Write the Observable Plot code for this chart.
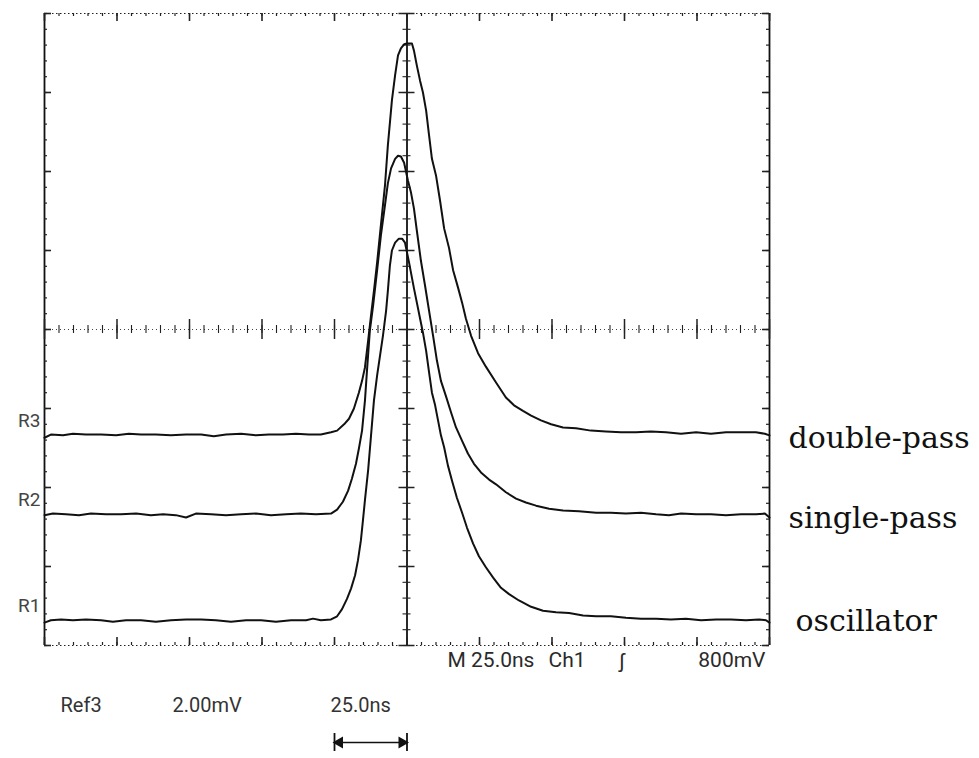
<!DOCTYPE html>
<html>
<head>
<meta charset="utf-8">
<script src="https://cdn.jsdelivr.net/npm/d3@7"></script>
<script src="https://cdn.jsdelivr.net/npm/@observablehq/plot@0.6"></script>
<style>
html, body { margin: 0; padding: 0; background: #fff; }
#chart svg { display: block; }
</style>
</head>
<body>
<div id="chart"></div>
<script>
// ---------------- data (time in ns, signal in screen divisions) ----------------
const doublePass = [
  [-125,-1.37],[-122.8,-1.33],[-118.6,-1.34],[-115.2,-1.32],[-110.7,-1.33],[-105.5,-1.33],
  [-100.3,-1.34],[-95.9,-1.32],[-91.7,-1.33],[-86.6,-1.33],[-81.4,-1.34],[-76.2,-1.33],
  [-71.0,-1.33],[-66.6,-1.35],[-62.4,-1.33],[-57.2,-1.32],[-52.1,-1.34],[-47.6,-1.33],
  [-42.8,-1.33],[-38.3,-1.32],[-33.8,-1.33],[-29.7,-1.33],[-26.2,-1.30],[-24.1,-1.28],
  [-21.7,-1.20],[-20.0,-1.13],[-18.3,-1.00],[-16.6,-0.80],[-15.5,-0.65],[-14.5,-0.48],
  [-13.4,-0.14],[-12.4,0.18],[-11.4,0.49],[-10.3,0.85],[-9.0,1.32],[-7.6,1.82],
  [-6.6,2.33],[-5.2,2.90],[-4.1,3.22],[-3.1,3.47],[-2.1,3.56],[-1.0,3.61],[0,3.62],
  [1.7,3.62],[2.4,3.53],[3.4,3.34],[4.5,3.15],[5.5,3.00],[6.6,2.77],[7.6,2.46],
  [8.6,2.16],[10.0,1.95],[11.4,1.63],[12.8,1.28],[14.5,1.03],[15.9,0.75],[17.6,0.53],
  [19.0,0.34],[20.3,0.14],[22.1,-0.08],[24.5,-0.30],[27.2,-0.47],[30.7,-0.67],
  [34.1,-0.86],[36.9,-0.96],[40.0,-1.03],[42.8,-1.09],[46.2,-1.15],[49.7,-1.20],
  [53.8,-1.24],[58.3,-1.25],[63.4,-1.28],[68.6,-1.29],[73.8,-1.30],[79.0,-1.30],
  [84.1,-1.29],[89.3,-1.30],[94.5,-1.32],[99.7,-1.30],[104.8,-1.32],[110.0,-1.30],
  [115.2,-1.30],[120.3,-1.30],[123.4,-1.32],[125,-1.34]
];
const singlePass = [
  [-125,-2.35],[-122.1,-2.33],[-117.6,-2.34],[-113.1,-2.35],[-109.0,-2.33],[-103.8,-2.34],
  [-98.6,-2.34],[-93.4,-2.33],[-88.3,-2.35],[-84.1,-2.34],[-79.7,-2.35],[-76.2,-2.38],
  [-72.8,-2.33],[-67.6,-2.34],[-62.4,-2.35],[-57.2,-2.34],[-52.1,-2.33],[-46.9,-2.35],
  [-41.7,-2.34],[-36.6,-2.33],[-31.4,-2.34],[-26.2,-2.33],[-24.1,-2.28],[-22.1,-2.18],
  [-20.3,-2.04],[-19.0,-1.89],[-17.6,-1.70],[-16.6,-1.51],[-15.5,-1.28],[-14.5,-0.90],
  [-13.8,-0.52],[-12.8,-0.01],[-11.7,0.30],[-10.3,0.75],[-9.0,1.19],[-7.6,1.57],
  [-6.6,1.85],[-5.5,2.04],[-4.1,2.16],[-3.1,2.20],[-2.1,2.19],[-1.0,2.11],[0.3,1.89],
  [1.4,1.73],[2.4,1.53],[3.4,1.25],[4.8,0.87],[6.2,0.56],[7.6,0.24],[9.0,-0.08],
  [10.3,-0.39],[11.7,-0.65],[13.4,-0.84],[15.2,-1.05],[16.9,-1.24],[19.0,-1.41],
  [21.0,-1.57],[23.1,-1.70],[25.5,-1.81],[28.3,-1.90],[30.7,-1.96],[34.1,-2.06],
  [37.6,-2.14],[41.0,-2.19],[44.5,-2.23],[49.0,-2.27],[53.8,-2.29],[59.3,-2.30],
  [65.2,-2.32],[70.3,-2.32],[75.5,-2.33],[80.7,-2.32],[85.9,-2.34],[90.3,-2.35],
  [94.5,-2.33],[99.7,-2.34],[104.8,-2.34],[110.0,-2.35],[115.2,-2.34],[120.3,-2.34],
  [123.4,-2.33],[125,-2.38]
];
const oscillator = [
  [-125,-3.71],[-122.8,-3.68],[-119.3,-3.67],[-115.2,-3.68],[-110.7,-3.67],[-105.5,-3.68],
  [-101.4,-3.70],[-96.9,-3.68],[-91.7,-3.68],[-86.6,-3.70],[-81.4,-3.68],[-76.2,-3.67],
  [-71.0,-3.67],[-65.9,-3.68],[-60.7,-3.70],[-55.5,-3.68],[-50.3,-3.68],[-45.2,-3.70],
  [-40.0,-3.68],[-34.8,-3.68],[-32.4,-3.66],[-29.7,-3.68],[-26.2,-3.67],[-24.1,-3.63],
  [-22.4,-3.54],[-20.7,-3.41],[-19.3,-3.28],[-17.9,-3.11],[-16.9,-2.92],[-15.9,-2.67],
  [-15.2,-2.42],[-14.5,-2.16],[-13.4,-1.78],[-12.4,-1.34],[-11.4,-0.90],[-10.3,-0.58],
  [-9.3,-0.33],[-8.3,-0.08],[-7.2,0.24],[-6.6,0.49],[-5.9,0.81],[-5.2,1.00],[-4.1,1.10],
  [-2.8,1.15],[-1.7,1.15],[-0.7,1.10],[0.7,0.85],[2.4,0.52],[3.4,0.34],[4.5,0.14],
  [5.5,-0.04],[6.6,-0.27],[7.6,-0.54],[8.6,-0.80],[9.7,-0.96],[10.7,-1.15],[11.7,-1.34],
  [12.8,-1.49],[14.1,-1.72],[15.5,-1.91],[17.2,-2.13],[19.0,-2.32],[20.7,-2.51],
  [22.8,-2.71],[24.8,-2.87],[27.2,-3.01],[29.7,-3.14],[32.4,-3.27],[35.2,-3.35],
  [38.6,-3.43],[42.8,-3.51],[46.9,-3.56],[51.4,-3.58],[55.9,-3.59],[60.7,-3.62],
  [65.2,-3.63],[70.3,-3.63],[75.5,-3.65],[80.7,-3.66],[85.9,-3.66],[91.0,-3.67],
  [96.2,-3.66],[101.4,-3.68],[106.6,-3.67],[111.7,-3.67],[116.9,-3.68],[121.4,-3.67],
  [123.8,-3.68],[125,-3.71]
];
const traceNames = ["double-pass", "single-pass", "oscillator"];
const refLabels  = ["R3", "R2", "R1"];
const refLevels  = [-1.33, -2.34, -3.68];
const timeDomain = [-125, 125];          // 25 ns / div, 10 divisions
const divDomain  = [-4, 4];              // 8 vertical divisions
const majorX = d3.range(0, 11).map(i => -125 + 25 * i);
const minorX = d3.range(0, 51).map(i => -125 + 5 * i);
const majorY = d3.range(0, 9).map(i => -4 + i);
const minorY = d3.range(0, 41).map(i => -4 + i / 5);
const scaleBar = [-25, 0];               // one division = 25.0 ns
const readoutTop = ["M 25.0ns", "Ch1", "\u0283", "800mV"];
const readoutRef = ["Ref3", "2.00mV", "25.0ns"];

// ---------------- layout ----------------
const W = 979, H = 758, mL = 44, mR = 210, mT = 13, mB = 113;
const pxPerDiv = (H - mT - mB) / 8;
const pxPerNs = (W - mL - mR) / 250;
const dY = p => p / pxPerDiv;
const dX = p => p / pxPerNs;
const scopeFont = 'Roboto,"Liberation Sans",Arial,sans-serif';
const serifFont = '"DejaVu Serif","Liberation Serif",serif';
const ink = "#111";
const grey = "#2a2a2a";

const refs = refLabels.map((label, i) => ({label, level: refLevels[i], name: traceNames[i]}));
const traces = [doublePass, singlePass, oscillator];

const L = -125, R = 125, T = 4, B = -4;

const marks = [
  // frame edges
  Plot.ruleY([T, B], {x1: L, x2: R, stroke: "#222", strokeWidth: 1, strokeDasharray: "1.5,2.5"}),
  Plot.ruleX([L, R], {y1: B, y2: T, stroke: ink, strokeWidth: 1.8}),
  // centre cross
  Plot.ruleY([0], {x1: L, x2: R, stroke: "#444", strokeWidth: 1, strokeDasharray: "1,3"}),
  Plot.ruleX([0], {y1: B, y2: T, stroke: ink, strokeWidth: 1.8}),
  // ticks on top / bottom edges
  Plot.ruleX(minorX, {y1: T, y2: T - dY(3), stroke: "#222", strokeWidth: 1.2}),
  Plot.ruleX(majorX, {y1: T, y2: T - dY(8), stroke: "#222", strokeWidth: 1.6}),
  Plot.ruleX(minorX, {y1: B, y2: B + dY(3), stroke: "#222", strokeWidth: 1.2}),
  Plot.ruleX(majorX, {y1: B, y2: B + dY(8), stroke: "#222", strokeWidth: 1.6}),
  // ticks on left / right edges
  Plot.ruleY(minorY, {x1: L, x2: L + dX(3), stroke: "#222", strokeWidth: 1.2}),
  Plot.ruleY(majorY, {x1: L, x2: L + dX(7), stroke: "#222", strokeWidth: 1.6}),
  Plot.ruleY(minorY, {x1: R, x2: R - dX(3), stroke: "#222", strokeWidth: 1.2}),
  Plot.ruleY(majorY, {x1: R, x2: R - dX(7), stroke: "#222", strokeWidth: 1.6}),
  // ticks on centre horizontal line
  Plot.ruleX(minorX, {y1: dY(4), y2: -dY(4), stroke: "#222", strokeWidth: 1.1}),
  Plot.ruleX(majorX, {y1: dY(10), y2: -dY(10), stroke: "#222", strokeWidth: 1.5}),
  // ticks on centre vertical line
  Plot.ruleY(minorY, {x1: -dX(4), x2: dX(4), stroke: "#222", strokeWidth: 1.1}),
  Plot.ruleY(majorY, {x1: -dX(8), x2: dX(8), stroke: "#222", strokeWidth: 1.5}),
  // traces
  ...traces.map(tr => Plot.line(tr, {x: d => d[0], y: d => d[1], stroke: ink, strokeWidth: 2, strokeLinejoin: "round", strokeLinecap: "round"})),
  // reference markers R3/R2/R1
  Plot.text(refs, {x: L, y: "level", text: "label", dx: -4, dy: -14, textAnchor: "end", fontSize: 19, fill: "#444", fontFamily: scopeFont}),
  // trace names
  Plot.text(refs.filter(d => d.name !== "oscillator"), {x: R, y: "level", text: "name", dx: 19, dy: 4, textAnchor: "start", fontSize: 30, fill: ink, fontFamily: serifFont, ariaLabel: "trace-names"}),
  Plot.text(refs.filter(d => d.name === "oscillator"), {x: R, y: "level", text: "name", dx: 26, dy: 1, textAnchor: "start", fontSize: 30, fill: ink, fontFamily: serifFont, ariaLabel: "trace-names"}),
  // scope readout under graticule
  Plot.text([readoutTop[0]], {x: L, y: B, text: d => d, dx: 403, dy: 15, textAnchor: "start", fontSize: 21, fill: grey, fontFamily: scopeFont}),
  Plot.text([readoutTop[1]], {x: L, y: B, text: d => d, dx: 504, dy: 15, textAnchor: "start", fontSize: 21, fill: grey, fontFamily: scopeFont}),
  Plot.text([readoutTop[2]], {x: L, y: B, text: d => d, dx: 575, dy: 16, textAnchor: "start", fontSize: 21, fill: grey, fontFamily: scopeFont}),
  Plot.text([readoutTop[3]], {x: R, y: B, text: d => d, dx: -4, dy: 15, textAnchor: "end", fontSize: 21, fill: grey, fontFamily: scopeFont}),
  Plot.text([readoutRef[0]], {x: L, y: B, text: d => d, dx: 16, dy: 60, textAnchor: "start", fontSize: 20, fill: "#333", fontFamily: scopeFont}),
  Plot.text([readoutRef[1]], {x: L, y: B, text: d => d, dx: 128, dy: 60, textAnchor: "start", fontSize: 20, fill: "#333", fontFamily: scopeFont}),
  Plot.text([readoutRef[2]], {x: scaleBar[0], y: B, text: d => d, dx: -4, dy: 60, textAnchor: "start", fontSize: 20, fill: "#333", fontFamily: scopeFont}),
  // 25 ns scale bar
  Plot.ruleY([B - dY(97)], {x1: scaleBar[0], x2: scaleBar[1], stroke: ink, strokeWidth: 1.6}),
  Plot.ruleX(scaleBar, {y1: B - dY(88), y2: B - dY(106), stroke: ink, strokeWidth: 1.8}),
  Plot.dot([scaleBar[0]], {x: d => d, y: B - dY(97), dx: 5, symbol: "triangle", rotate: -90, r: 4.5, fill: ink, stroke: "none"}),
  Plot.dot([scaleBar[1]], {x: d => d, y: B - dY(97), dx: -5, symbol: "triangle", rotate: 90, r: 4.5, fill: ink, stroke: "none"})
];

const chart = Plot.plot({
  width: W, height: H,
  marginLeft: mL, marginRight: mR, marginTop: mT, marginBottom: mB,
  x: {domain: timeDomain, axis: null},
  y: {domain: divDomain, axis: null},
  style: {background: "#fff", overflow: "visible"},
  marks
});
d3.select(chart).selectAll('g[aria-label="trace-names"] text').style("letter-spacing", "2px");
document.getElementById("chart").appendChild(chart);
</script>
</body>
</html>
